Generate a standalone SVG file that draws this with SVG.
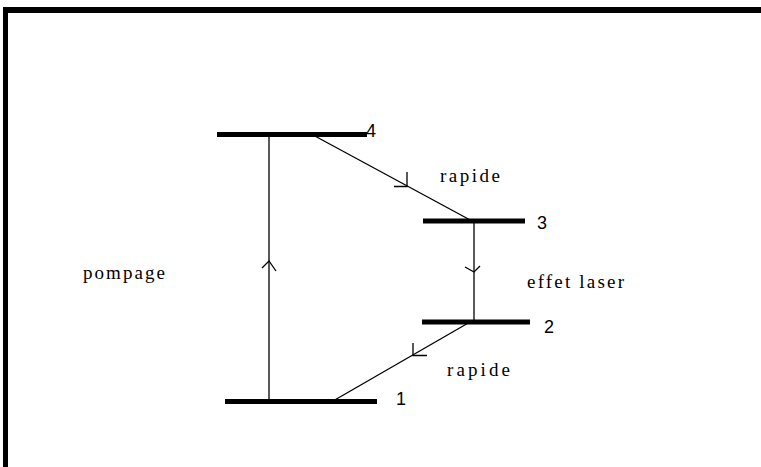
<svg xmlns="http://www.w3.org/2000/svg" width="761" height="467" viewBox="0 0 761 467">
  <style>
    .frame { stroke: #000; fill: none; }
    .level { stroke: #000; stroke-width: 5; }
    .link { stroke: #000; stroke-width: 1.3; fill: none; }
    .head { stroke: #000; stroke-width: 1.3; fill: none; }
    .num { font-family: "Liberation Sans", Arial, sans-serif; font-size: 18px; fill: #000; }
    .lbl { font-family: "Liberation Serif", "Times New Roman", serif; font-size: 19px; fill: #000; }
  </style>
  <rect width="761" height="467" fill="#fff"/>

  <!-- outer frame: heavy top and left edges -->
  <g id="frame">
    <line class="frame" x1="3" y1="10" x2="761" y2="10" stroke-width="6"/>
    <line class="frame" x1="5.5" y1="7" x2="5.5" y2="467" stroke-width="5"/>
  </g>

  <!-- energy levels -->
  <g id="level4">
    <line class="level" x1="217" y1="134.5" x2="367" y2="134.5"/>
    <text class="num" x="366" y="137">4</text>
  </g>
  <g id="level3">
    <line class="level" x1="423" y1="221" x2="525" y2="221" stroke-width="4"/>
    <text class="num" x="537" y="229">3</text>
  </g>
  <g id="level2">
    <line class="level" x1="422" y1="322" x2="530" y2="322" stroke-width="4"/>
    <text class="num" x="544" y="333">2</text>
  </g>
  <g id="level1">
    <line class="level" x1="225" y1="401.5" x2="377" y2="401.5"/>
    <text class="num" x="396" y="405">1</text>
  </g>

  <!-- transitions -->
  <g id="connectors">
    <!-- pompage 1 -> 4 -->
    <line class="link" x1="269" y1="401" x2="269" y2="134"/>
    <polyline class="head" points="262,268 269,261 276,271"/>
    <!-- rapide 4 -> 3 -->
    <line class="link" x1="313" y1="135" x2="472" y2="221"/>
    <polyline class="head" points="407,172 407,186.5 394,186.5"/>
    <!-- effet laser 3 -> 2 -->
    <line class="link" x1="474" y1="221" x2="474" y2="322" stroke-width="2"/>
    <polyline class="head" points="465,267 474,272 480,266"/>
    <!-- rapide 2 -> 1 -->
    <line class="link" x1="470" y1="322" x2="333" y2="401"/>
    <polyline class="head" points="413,343 413,355.5 427,355.5"/>
  </g>

  <!-- transition labels -->
  <g id="labels">
    <text class="lbl" x="83" y="279" textLength="82" lengthAdjust="spacing">pompage</text>
    <text class="lbl" x="440" y="182" textLength="60" lengthAdjust="spacing">rapide</text>
    <text class="lbl" x="527" y="288" textLength="97" lengthAdjust="spacing">effet laser</text>
    <text class="lbl" x="447" y="376" textLength="63" lengthAdjust="spacing">rapide</text>
  </g>
</svg>
